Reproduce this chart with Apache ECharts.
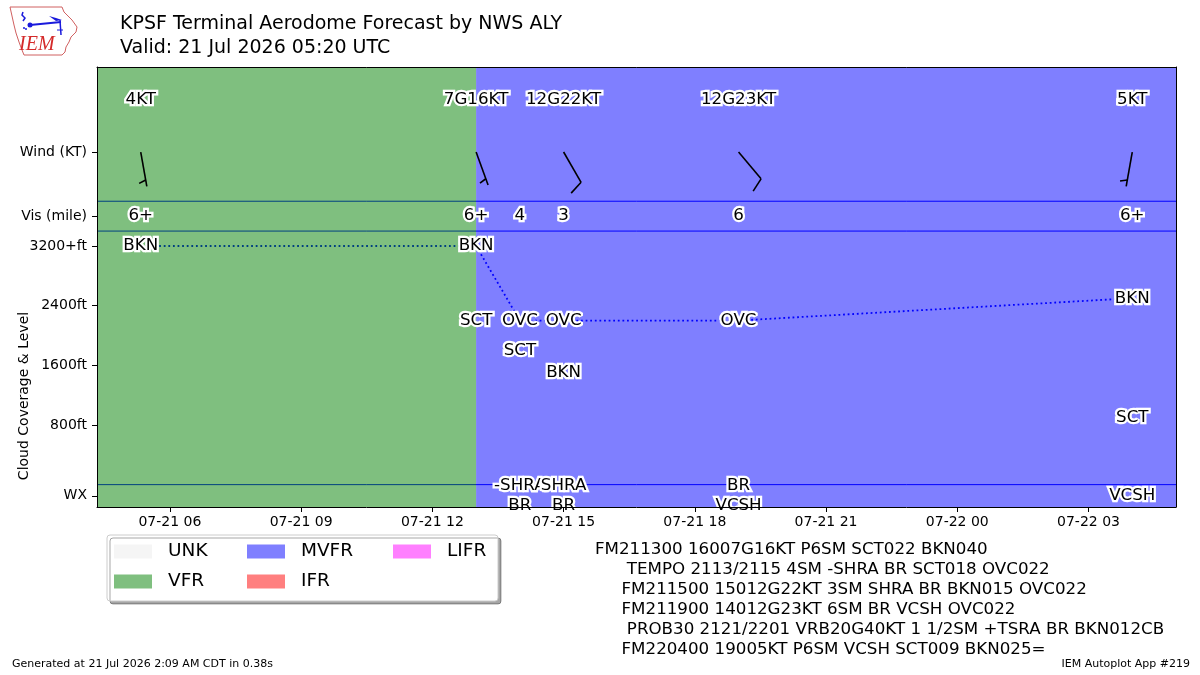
<!DOCTYPE html>
<html>
<head>
<meta charset="utf-8">
<script src="https://cdn.jsdelivr.net/npm/echarts@6/dist/echarts.min.js"></script>
<style>
  html, body { margin: 0; padding: 0; background: #fff; }
  #chart { width: 1200px; height: 675px; }
</style>
</head>
<body>
<div id="chart"></div>
<script>
const FONT = 'DejaVu Sans';

// forecast groups, times as DDHHMM (UTC)
const groupTimes = ['210520', '211300', '211400', '211500', '211900', '220400'];
const windText = ['4KT', '7G16KT', '', '12G22KT', '12G23KT', '5KT'];
const windDir = [170, 160, null, 150, 140, 190];
const windSpeed = [4, 7, null, 12, 12, 5];
const visText = ['6+', '6+', '4', '3', '6', '6+'];
const wxText = ['', '', '-SHRA\nBR', 'SHRA\nBR', 'BR\nVCSH', 'VCSH'];

// cloud layers, level in hundreds of ft (32 = 3200+)
const cloudTimes = ['210520', '211300', '211300', '211400', '211400', '211500', '211500', '211900', '220400', '220400'];
const cloudCover = ['BKN', 'SCT', 'BKN', 'SCT', 'OVC', 'BKN', 'OVC', 'OVC', 'SCT', 'BKN'];
const cloudLevel = [32, 22, 32, 18, 22, 15, 22, 22, 9, 25];

// ceiling trace
const ceilTimes = ['210520', '211300', '211400', '211500', '211900', '220400'];
const ceilLevel = [32, 32, 22, 22, 22, 25];

// flight categories
const catNames = ['UNK', 'VFR', 'MVFR', 'IFR', 'LIFR'];
const catColors = ['rgba(235,235,235,0.5)', 'rgba(0,128,0,0.5)', 'rgba(0,0,255,0.5)', 'rgba(255,0,0,0.5)', 'rgba(255,0,255,0.5)'];
const periodCat = ['VFR', 'MVFR'];
const periodStart = ['210420', '211300'];
const periodEnd = ['211300', '220500'];

// axes
const xMin = '210420';
const xMax = '220500';
const xTicks = ['210600', '210900', '211200', '211500', '211800', '212100', '220000', '220300'];
const yTickVals = [-1.5, 8, 16, 24, 32, 36, 44.6];
const yTickLabels = ['WX', '800ft', '1600ft', '2400ft', '3200+ft', 'Vis (mile)', 'Wind (KT)'];
const rowLines = [0, 34, 38];
const windRowY = 44.6;
const windTextY = 51.6;
const visRowY = 36;
const wxRowY = -1.5;

const tafLines = [
  'FM211300 16007G16KT P6SM SCT022 BKN040',
  '      TEMPO 2113/2115 4SM -SHRA BR SCT018 OVC022',
  '     FM211500 15012G22KT 3SM SHRA BR BKN015 OVC022',
  '     FM211900 14012G23KT 6SM BR VCSH OVC022',
  '      PROB30 2121/2201 VRB20G40KT 1 1/2SM +TSRA BR BKN012CB',
  '     FM220400 19005KT P6SM VCSH SCT009 BKN025='
];

// hours since 21 Jul 00Z
function hr(s) {
  return (+s.slice(0, 2) - 21) * 24 + +s.slice(2, 4) + +s.slice(4, 6) / 60;
}
function fmtTime(h) {
  const day = 21 + Math.floor(h / 24);
  const hh = Math.round(h % 24);
  return '07-' + day + ' ' + String(hh).padStart(2, '0');
}

const chart = echarts.init(document.getElementById('chart'));

// text labels with a white halo, placed through the axes
function textSeries(name, data) {
  return {
    name: name,
    type: 'custom',
    z: 7,
    silent: true,
    clip: false,
    data: data.map(d => [d[0], d[1]]),
    encode: { x: 0, y: 1 },
    renderItem: function (params, api) {
      const pt = api.coord([api.value(0), api.value(1)]);
      const txt = data[params.dataIndex][2];
      const base = { text: txt, fontFamily: FONT, fontSize: 16.7, lineHeight: 20, textAlign: 'center', textVerticalAlign: 'middle' };
      return {
        type: 'group',
        children: [
          { type: 'text', x: pt[0], y: pt[1], style: Object.assign({}, base, { fill: '#fff', stroke: '#fff', lineWidth: 4.5, lineJoin: 'round' }) },
          { type: 'text', x: pt[0], y: pt[1], style: Object.assign({}, base, { fill: '#000' }) }
        ]
      };
    }
  };
}

const windData = [], visData = [], wxData = [], barbData = [];
groupTimes.forEach((t, i) => {
  const x = hr(t);
  if (windText[i]) windData.push([x, windTextY, windText[i]]);
  if (visText[i]) visData.push([x, visRowY, visText[i]]);
  if (wxText[i]) wxData.push([x, wxRowY, wxText[i]]);
  if (windDir[i] !== null) barbData.push([x, windRowY, windDir[i], windSpeed[i]]);
});
const cloudData = cloudTimes.map((t, i) => [hr(t), cloudLevel[i], cloudCover[i]]);

// one series per flight category, regions as markArea
const catSeries = catNames.map((c, ci) => {
  const areas = [];
  periodCat.forEach((pc, i) => {
    if (pc === c) areas.push([{ xAxis: hr(periodStart[i]) }, { xAxis: hr(periodEnd[i]) }]);
  });
  return {
    name: c,
    type: 'line',
    data: [],
    z: 3,
    itemStyle: { color: catColors[ci] },
    lineStyle: { color: catColors[ci] },
    markArea: areas.length ? {
      silent: true,
      z: 3,
      itemStyle: { color: catColors[ci], opacity: 1 },
      data: areas
    } : undefined
  };
});

// row separators, drawn beneath the category fills
const sepSeries = rowLines.map(v => ({
  name: 'sep' + v,
  type: 'line',
  z: 1,
  silent: true,
  symbol: 'none',
  data: [[hr(xMin), v], [hr(xMax), v]],
  lineStyle: { color: '#0000ff', width: 1 }
}));

function renderBarb(params, api) {
  const s = api.coord([api.value(0), api.value(1)]);
  const d = api.value(2) * Math.PI / 180;
  const spd = Math.round(api.value(3) / 5) * 5;
  const L = 35;
  const ux = Math.sin(d), uy = -Math.cos(d);
  const px = -uy, py = ux;
  const at = k => [s[0] + ux * k, s[1] + uy * k];
  const children = [];
  const style = { stroke: '#000', lineWidth: 1.6 };
  const tip = at(L);
  children.push({ type: 'line', shape: { x1: s[0], y1: s[1], x2: tip[0], y2: tip[1] }, style: style });
  const full = Math.floor(spd / 10);
  const half = spd % 10 >= 5;
  let off = L;
  for (let i = 0; i < full; i++) {
    const a = at(off);
    children.push({ type: 'line', shape: { x1: a[0], y1: a[1], x2: a[0] + px * 0.4 * L + ux * 0.125 * L, y2: a[1] + py * 0.4 * L + uy * 0.125 * L }, style: style });
    off -= 0.125 * L;
  }
  if (half) {
    if (full === 0) off -= 1.5 * 0.125 * L;
    const a = at(off);
    children.push({ type: 'line', shape: { x1: a[0], y1: a[1], x2: a[0] + px * 0.2 * L + ux * 0.0625 * L, y2: a[1] + py * 0.2 * L + uy * 0.0625 * L }, style: style });
  }
  return { type: 'group', children: children };
}

const legendCommon = {
  orient: 'vertical',
  top: 537,
  icon: 'rect',
  itemWidth: 38,
  itemHeight: 14,
  itemGap: 11,
  selectedMode: false,
  textStyle: { fontFamily: FONT, fontSize: 18.5, color: '#000', padding: [0, 0, 0, 11] }
};

const option = {
  animation: false,
  backgroundColor: '#fff',
  textStyle: { fontFamily: FONT },
  grid: { left: 97, right: 24, top: 67, bottom: 168 },
  legend: [
    Object.assign({ left: 109, data: ['UNK', 'VFR'] }, legendCommon),
    Object.assign({ left: 242, data: ['MVFR', 'IFR'] }, legendCommon),
    Object.assign({ left: 388, data: ['LIFR'] }, legendCommon)
  ],
  xAxis: [{
    type: 'value',
    min: hr(xMin),
    max: hr(xMax),
    z: 10,
    splitLine: { show: false },
    axisLine: { onZero: false, lineStyle: { color: '#000', width: 1 } },
    axisTick: { show: true, length: 5, lineStyle: { color: '#000' }, customValues: xTicks.map(hr) },
    axisLabel: { color: '#000', fontSize: 14, fontFamily: FONT, margin: 8, customValues: xTicks.map(hr), formatter: v => fmtTime(v) }
  }, {
    type: 'value',
    position: 'top',
    min: hr(xMin),
    max: hr(xMax),
    z: 10,
    splitLine: { show: false },
    axisLine: { show: true, onZero: false, lineStyle: { color: '#000', width: 1 } },
    axisTick: { show: false },
    axisLabel: { show: false }
  }],
  yAxis: [{
    type: 'value',
    min: -3,
    max: 56,
    z: 10,
    splitLine: { show: false },
    axisLine: { show: true, onZero: false, lineStyle: { color: '#000', width: 1 } },
    axisTick: { show: true, length: 5, lineStyle: { color: '#000' }, customValues: yTickVals },
    axisLabel: {
      color: '#000', fontSize: 14, fontFamily: FONT, margin: 10,
      customValues: yTickVals,
      formatter: v => {
        const i = yTickVals.findIndex(t => Math.abs(t - v) < 1e-6);
        return i >= 0 ? yTickLabels[i] : '';
      }
    }
  }, {
    type: 'value',
    position: 'right',
    min: -3,
    max: 56,
    z: 10,
    splitLine: { show: false },
    axisLine: { show: true, onZero: false, lineStyle: { color: '#000', width: 1 } },
    axisTick: { show: false },
    axisLabel: { show: false }
  }],
  series: [
    ...sepSeries,
    {
      name: 'ceiling',
      type: 'line',
      z: 1,
      silent: true,
      symbol: 'none',
      data: ceilTimes.map((t, i) => [hr(t), ceilLevel[i]]),
      lineStyle: { color: '#0000ff', width: 1.8, type: [1.8, 2.8] }
    },
    ...catSeries,
    {
      name: 'barbs',
      type: 'custom',
      z: 8,
      silent: true,
      clip: false,
      data: barbData,
      encode: { x: 0, y: 1 },
      renderItem: renderBarb
    },
    textSeries('wind', windData),
    textSeries('vis', visData),
    textSeries('clouds', cloudData),
    textSeries('wx', wxData)
  ],
  graphic: [
    // legend frame
    {
      type: 'rect', z: -1, silent: true,
      shape: { x: 107, y: 535, width: 391, height: 66, r: 3 },
      style: { fill: '#fff', stroke: '#cccccc', lineWidth: 1, shadowColor: 'rgba(0,0,0,0.35)', shadowOffsetX: 3, shadowOffsetY: 3, shadowBlur: 0 }
    },
    // titles
    { type: 'text', x: 120, y: 24, style: { text: 'KPSF Terminal Aerodome Forecast by NWS ALY', fontFamily: FONT, fontSize: 19, fill: '#000', textVerticalAlign: 'middle' } },
    { type: 'text', x: 120, y: 48, style: { text: 'Valid: 21 Jul 2026 05:20 UTC', fontFamily: FONT, fontSize: 19, fill: '#000', textVerticalAlign: 'middle' } },
    // y axis name
    { type: 'text', x: 24, y: 396, rotation: Math.PI / 2, style: { text: 'Cloud Coverage & Level', fontFamily: FONT, fontSize: 14, fill: '#000', textAlign: 'center', textVerticalAlign: 'middle' } },
    // raw TAF
    { type: 'text', x: 595, y: 540, style: { text: tafLines.join('\n'), fontFamily: FONT, fontSize: 16.7, lineHeight: 20, fill: '#000', textVerticalAlign: 'top' } },
    // footer
    { type: 'text', x: 12, y: 664, style: { text: 'Generated at 21 Jul 2026 2:09 AM CDT in 0.38s', fontFamily: FONT, fontSize: 11, fill: '#000', textVerticalAlign: 'middle' } },
    { type: 'text', x: 1190, y: 664, style: { text: 'IEM Autoplot App #219', fontFamily: FONT, fontSize: 11, fill: '#000', textAlign: 'right', textVerticalAlign: 'middle' } },
    // IEM logo
    {
      type: 'group', silent: true,
      children: [
        { type: 'polygon', shape: { points: [[10,7],[62,7],[64,12],[68,16],[72,20],[77,27],[76,32],[71,37],[69,42],[66,47],[65,52],[62,55],[24,55],[22,50],[19,42],[16,33],[14,25],[12,16]] }, style: { fill: '#fff', stroke: '#d06060', lineWidth: 1 } },
        { type: 'polyline', shape: { points: [[23,12],[22,15],[25,18],[23,21]] }, style: { stroke: '#1a1adc', lineWidth: 1.5, fill: null } },
        { type: 'line', shape: { x1: 30, y1: 25, x2: 61, y2: 22 }, style: { stroke: '#1a1adc', lineWidth: 2 } },
        { type: 'circle', shape: { cx: 30, cy: 25, r: 2.5 }, style: { fill: '#1a1adc' } },
        { type: 'polygon', shape: { points: [[49,16],[56,18],[62,20],[56,21]] }, style: { fill: '#1a1adc' } },
        { type: 'line', shape: { x1: 60, y1: 20, x2: 61, y2: 35 }, style: { stroke: '#1a1adc', lineWidth: 1.5 } },
        { type: 'line', shape: { x1: 57, y1: 30, x2: 63, y2: 30 }, style: { stroke: '#1a1adc', lineWidth: 1 } },
        { type: 'circle', shape: { cx: 24, cy: 28, r: 1 }, style: { fill: '#1a1adc' } },
        { type: 'circle', shape: { cx: 26, cy: 29, r: 1 }, style: { fill: '#1a1adc' } },
        { type: 'text', x: 19, y: 45, style: { text: 'IEM', font: 'italic 20px "Liberation Serif"', fill: '#d42a2a', textVerticalAlign: 'middle' } }
      ]
    }
  ]
};

chart.setOption(option);
</script>
</body>
</html>
